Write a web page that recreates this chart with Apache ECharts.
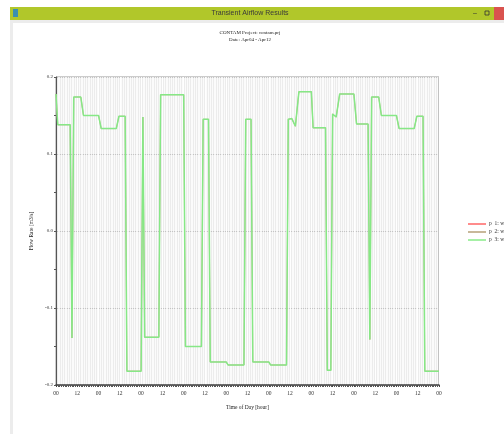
<!DOCTYPE html>
<html><head><meta charset="utf-8">
<script src="https://cdn.jsdelivr.net/npm/echarts@6/dist/echarts.min.js"></script>
<style>html,body{margin:0;padding:0;background:#fff}#c{width:504px;height:434px}</style>
</head><body><div id="c"></div>
<script>
// Time (hours from Apr04 00:00) and flow rate [m3/s]
const hours = [0,1,8,9,10,14,15.5,24,25.5,34,35.5,39,40,48,49,50,58,59,72,73,82,83,86,87,96,97,106,107,110,111,120,121,130,131,133,135,137,144,145,152,153,155,156,158,160,168,169.5,176,177,178,182,183.5,192,193.5,202,203.5,207,208,216];
const flowP3 = [0.178,0.138,0.138,-0.139,0.174,0.174,0.150,0.150,0.133,0.133,0.149,0.149,-0.182,-0.182,0.148,-0.138,-0.138,0.177,0.177,-0.150,-0.150,0.145,0.145,-0.170,-0.170,-0.174,-0.174,0.145,0.145,-0.170,-0.170,-0.174,-0.174,0.145,0.146,0.136,0.181,0.181,0.134,0.134,-0.181,-0.181,0.152,0.148,0.178,0.178,0.139,0.139,-0.141,0.174,0.174,0.150,0.150,0.133,0.133,0.149,0.149,-0.182,-0.182];
const flowP1 = flowP3.slice();
const flowP2 = flowP3.slice();
const seriesNames = ['p  1: window', 'p  2: window', 'p  3: window'];
const yTicks = [-0.2,-0.1,0.0,0.1,0.2];
const xTickLabels = {0:'00',12:'12'};

const pairs = arr => hours.map((h,i)=>[h,arr[i]]);
const serif = 'Liberation Serif';
const chart = echarts.init(document.getElementById('c'), null, {renderer:'canvas'});
chart.setOption({
  animation:false,
  backgroundColor:'#ffffff',
  graphic:[
    {type:'rect', shape:{x:10,y:7,width:494,height:13}, style:{fill:'#b1c72a'}, z:-1},
    {type:'rect', shape:{x:10,y:20,width:494,height:3}, style:{fill:'#ececec'}, z:-1},
    {type:'rect', shape:{x:10,y:20,width:3,height:414}, style:{fill:'#ececec'}, z:-1},
    {type:'rect', shape:{x:13,y:9,width:5,height:8}, style:{fill:'#3a8fb0'}},
    {type:'text', x:250, y:13.5, style:{text:'Transient Airflow Results', fill:'#3a3a3a', font:'7px "Liberation Sans"', align:'center', verticalAlign:'middle'}},
    {type:'text', x:475, y:13.5, style:{text:'–', fill:'#333', font:'7px "Liberation Sans"', align:'center', verticalAlign:'middle'}},
    {type:'rect', shape:{x:485,y:11,width:4,height:4}, style:{fill:'none', stroke:'#333', lineWidth:0.8}},
    {type:'rect', shape:{x:494,y:7,width:10,height:13}, style:{fill:'#d9534f'}},
    {type:'text', x:250, y:33, style:{text:'CONTAM Project: contam.prj', fill:'#222', font:'5px "Liberation Serif"', align:'center', verticalAlign:'middle'}},
    {type:'text', x:250, y:40, style:{text:'Date: Apr04 - Apr12', fill:'#222', font:'5px "Liberation Serif"', align:'center', verticalAlign:'middle'}}
  ],
  grid:{left:56, right:65, top:77, bottom:49, show:true, backgroundColor:'#ececec', borderColor:'#999', borderWidth:1},
  legend:{
    orient:'vertical', left:463, top:216, itemGap:2, itemWidth:18, itemHeight:2, icon:'rect',
    data:seriesNames,
    textStyle:{fontFamily:serif, fontSize:5.5, color:'#333', padding:[0,0,0,-2]}
  },
  xAxis:{
    type:'value', min:0, max:216, interval:12,
    name:'Time of Day [hour]', nameLocation:'middle', nameGap:20,
    nameTextStyle:{fontFamily:serif, fontSize:5.5, color:'#222'},
    axisLine:{onZero:false, lineStyle:{color:'#444', width:1.5}},
    axisTick:{show:true, length:2, lineStyle:{color:'#444'}},
    minorTick:{show:true, splitNumber:12, length:2, lineStyle:{color:'#555'}},
    axisLabel:{fontFamily:serif, fontSize:5.5, color:'#333', margin:6, formatter:v=>xTickLabels[v%24]},
    splitLine:{show:true, lineStyle:{color:'#ffffff', width:1}},
    minorSplitLine:{show:true, lineStyle:{color:'#ffffff', width:0.8}}
  },
  yAxis:{
    type:'value', min:-0.2, max:0.2, interval:0.1,
    name:'Flow Rate [m3/s]', nameLocation:'middle', nameGap:15, nameRotate:90,
    nameTextStyle:{fontFamily:serif, fontSize:5.5, color:'#222'},
    axisLine:{show:true, onZero:false, lineStyle:{color:'#555', width:1}},
    axisTick:{show:true, length:2, lineStyle:{color:'#555'}},
    minorTick:{show:true, splitNumber:2, length:2, lineStyle:{color:'#555'}},
    axisLabel:{fontFamily:serif, fontSize:5, color:'#333', margin:3, formatter:v=>{const t=yTicks.find(k=>Math.abs(k-v)<1e-9);return (t===undefined?v:t).toFixed(1);}},
    splitLine:{show:true, lineStyle:{color:'#c4c4c4', width:1}}
  },
  series:[
    {name:seriesNames[0], type:'line', data:pairs(flowP1), showSymbol:false, lineStyle:{color:'#ff8c8c', width:0.6}, itemStyle:{color:'#ff8c8c'}, z:2},
    {name:seriesNames[1], type:'line', data:pairs(flowP2), showSymbol:false, lineStyle:{color:'#c8b89a', width:0.6}, itemStyle:{color:'#c8b89a'}, z:3},
    {name:seriesNames[2], type:'line', data:pairs(flowP3), showSymbol:false, lineStyle:{color:'#86e886', width:1.5}, itemStyle:{color:'#a6f0a6'}, z:4}
  ]
});
</script></body></html>
